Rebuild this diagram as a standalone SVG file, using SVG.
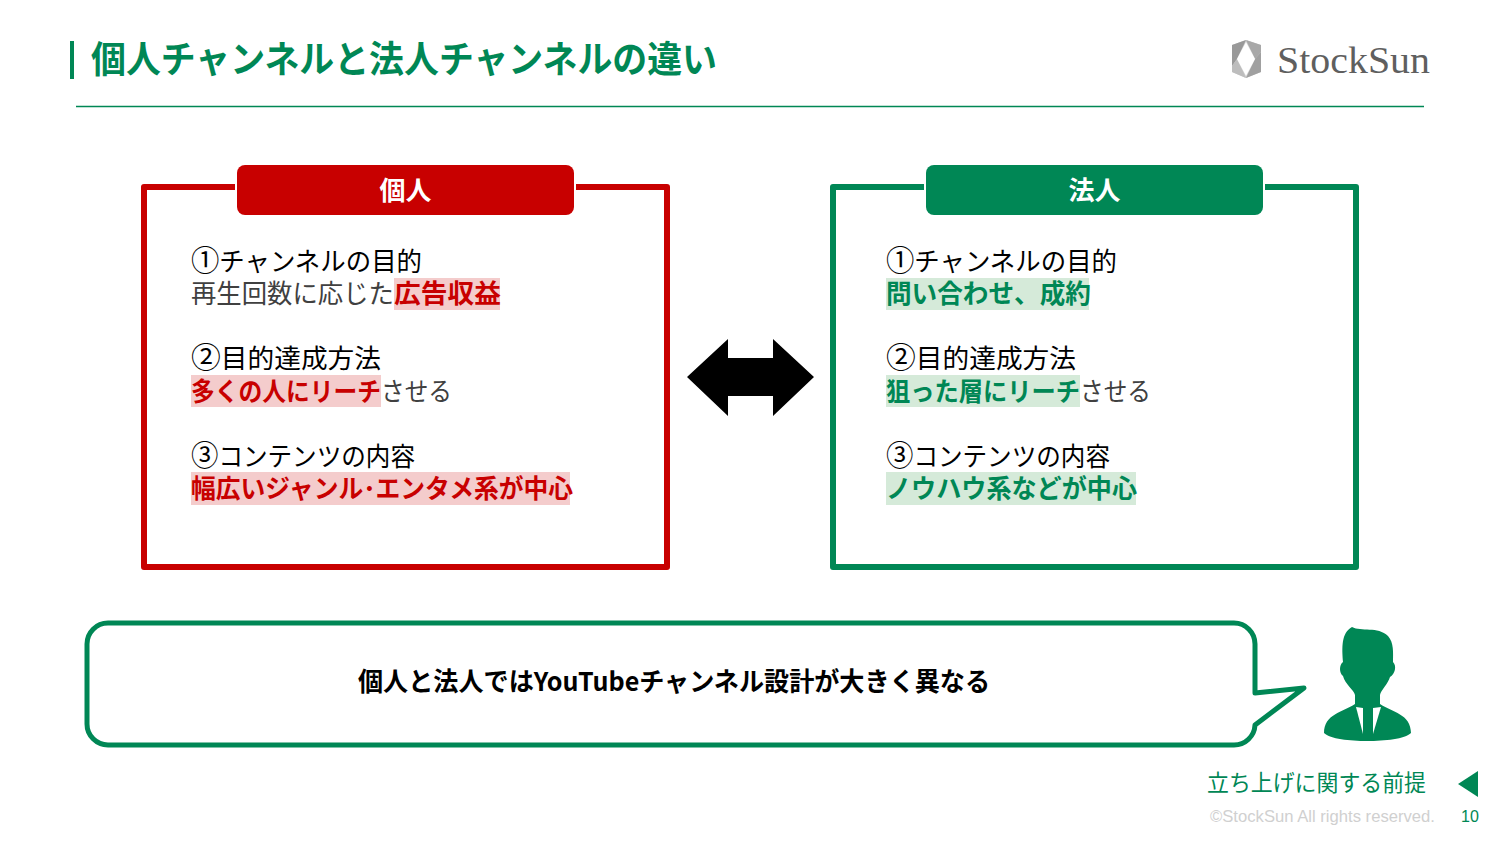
<svg xmlns="http://www.w3.org/2000/svg" width="1500" height="844" viewBox="0 0 1500 844">
<style>
text{font-family:"Noto Sans CJK JP","Noto Sans",sans-serif}
.l{font-size:26px;fill:#000}
.g{font-size:26px;fill:#404040}
.r{font-size:26px;font-weight:700;fill:#c80000}
.n{font-size:26px;font-weight:700;fill:#008755}
.h{font-size:26px;font-weight:700;fill:#fff;text-anchor:middle}
.box{fill:#fff;stroke-width:6;stroke-linejoin:round}
.num{font-size:29px}
</style>
<rect width="1500" height="844" fill="#fff"/>
<g id="header">
<rect x="70" y="41" width="4" height="38" fill="#008755"/>
<text x="91" y="73" font-size="37" font-weight="700" fill="#008755" textLength="626" lengthAdjust="spacingAndGlyphs">個人チャンネルと法人チャンネルの違い</text>
<line x1="76" y1="106.500" x2="1424" y2="106.500" stroke="#008755" stroke-width="1.500"/>
</g>
<g id="logo">
<polygon points="1246,40 1261,45 1261,72 1246,78 1232,72 1232,45" fill="#cfcfcf"/>
<polygon points="1232,45 1246,40 1237,59 1232,66" fill="#999"/>
<polygon points="1261,45 1246,40 1255,59 1261,52" fill="#a8a8a8"/>
<polygon points="1261,72 1246,78 1255,59 1261,52" fill="#a0a0a0"/>
<polygon points="1232,72 1246,78 1237,59 1232,66" fill="#bdbdbd"/>
<polygon points="1246,42 1255,59 1246,76 1237,59" fill="#fff"/>
<text x="1277" y="73" font-size="38" fill="#5f5f5f" style="font-family:'Liberation Serif',serif" textLength="153" lengthAdjust="spacingAndGlyphs">StockSun</text>
</g>
<g id="node-kojin">
<rect class="box" x="144" y="187" width="523" height="380" stroke="#c80000"/>
<rect x="237" y="165" width="337" height="50" rx="8" fill="#c80000" stroke="#fff" stroke-width="4" paint-order="stroke"/>
<text class="h" x="405.500" y="200">個人</text>
<rect x="394" y="278" width="106" height="32" fill="#f4cccc"/>
<rect x="191" y="375" width="190" height="32" fill="#f4cccc"/>
<rect x="191" y="472" width="379" height="33" fill="#f4cccc"/>
<text class="l" x="191" y="271" textLength="231" lengthAdjust="spacingAndGlyphs"><tspan class="num">①</tspan>チャンネルの目的</text>
<text class="g" x="191" y="303" textLength="203" lengthAdjust="spacingAndGlyphs">再生回数に応じた</text>
<text class="r" x="394" y="303" textLength="107" lengthAdjust="spacingAndGlyphs">広告収益</text>
<text class="l" x="191" y="368" textLength="190" lengthAdjust="spacingAndGlyphs"><tspan class="num">②</tspan>目的達成方法</text>
<text class="r" x="191" y="401" textLength="190" lengthAdjust="spacingAndGlyphs">多くの人にリーチ</text>
<text class="g" x="381" y="401" textLength="71" lengthAdjust="spacingAndGlyphs">させる</text>
<text class="l" x="191" y="466" textLength="224" lengthAdjust="spacingAndGlyphs"><tspan class="num">③</tspan>コンテンツの内容</text>
<text class="r" x="191" y="498" textLength="382" lengthAdjust="spacingAndGlyphs">幅広いジャンル･エンタメ系が中心</text>
</g>
<g id="node-hojin">
<rect class="box" x="833" y="187" width="523" height="380" stroke="#008755"/>
<rect x="926" y="165" width="337" height="50" rx="8" fill="#008755" stroke="#fff" stroke-width="4" paint-order="stroke"/>
<text class="h" x="1094.500" y="200">法人</text>
<rect x="886" y="278" width="203" height="32" fill="#d5ead9"/>
<rect x="886" y="375" width="194" height="32" fill="#d5ead9"/>
<rect x="886" y="472" width="250" height="33" fill="#d5ead9"/>
<text class="l" x="886" y="271" textLength="231" lengthAdjust="spacingAndGlyphs"><tspan class="num">①</tspan>チャンネルの目的</text>
<text class="n" x="886" y="303" textLength="205" lengthAdjust="spacingAndGlyphs">問い合わせ、成約</text>
<text class="l" x="886" y="368" textLength="190" lengthAdjust="spacingAndGlyphs"><tspan class="num">②</tspan>目的達成方法</text>
<text class="n" x="886" y="401" textLength="194" lengthAdjust="spacingAndGlyphs">狙った層にリーチ</text>
<text class="g" x="1080" y="401" textLength="71" lengthAdjust="spacingAndGlyphs">させる</text>
<text class="l" x="886" y="466" textLength="224" lengthAdjust="spacingAndGlyphs"><tspan class="num">③</tspan>コンテンツの内容</text>
<text class="n" x="886" y="498" textLength="251" lengthAdjust="spacingAndGlyphs">ノウハウ系などが中心</text>
</g>
<g id="connectors">
<polygon points="687,377 728,339 728,358 773,358 773,339 814,377 773,416 773,396 728,396 728,416" fill="#000"/>
</g>
<g id="node-callout">
<path d="M108 623H1234A21 21 0 0 1 1255 644V693L1304 688L1255 725A21 21 0 0 1 1234 745H108A21 21 0 0 1 87 724V644A21 21 0 0 1 108 623Z" fill="#fff" stroke="#008755" stroke-width="5" stroke-linejoin="round"/>
<text x="358" y="691" font-size="26" font-weight="700" fill="#000" textLength="632" lengthAdjust="spacingAndGlyphs">個人と法人ではYouTubeチャンネル設計が大きく異なる</text>
</g>
<g id="node-person">
<path d="M1352 627C1361 632 1378 626 1388 636C1394 643 1393 652 1393 662C1397 666 1395 674 1390 677C1388 684 1381 690 1380 695V704C1392 712 1411 714 1411 733C1405 739 1385 741 1367 741C1350 741 1330 739 1324 733C1324 714 1343 712 1355 704V695C1354 690 1345 684 1343 676C1339 673 1339 665 1343 662C1342 648 1341 633 1352 627Z" fill="#008755"/>
<polygon points="1356,707 1363,708 1363,734" fill="#fff"/>
<polygon points="1381,707 1373,708 1373,734" fill="#fff"/>
</g>
<g id="footer">
<text x="1207" y="791" font-size="23" fill="#008755" textLength="219" lengthAdjust="spacingAndGlyphs">立ち上げに関する前提</text>
<polygon points="1458,784 1478,771 1478,797" fill="#008755"/>
<text x="1210" y="822" font-size="17" fill="#d0d0d0" style="font-family:'Liberation Sans',sans-serif" textLength="225" lengthAdjust="spacingAndGlyphs">©StockSun All rights reserved.</text>
<text x="1461" y="822" font-size="16" fill="#008755" style="font-family:'Liberation Sans',sans-serif">10</text>
</g>
</svg>
